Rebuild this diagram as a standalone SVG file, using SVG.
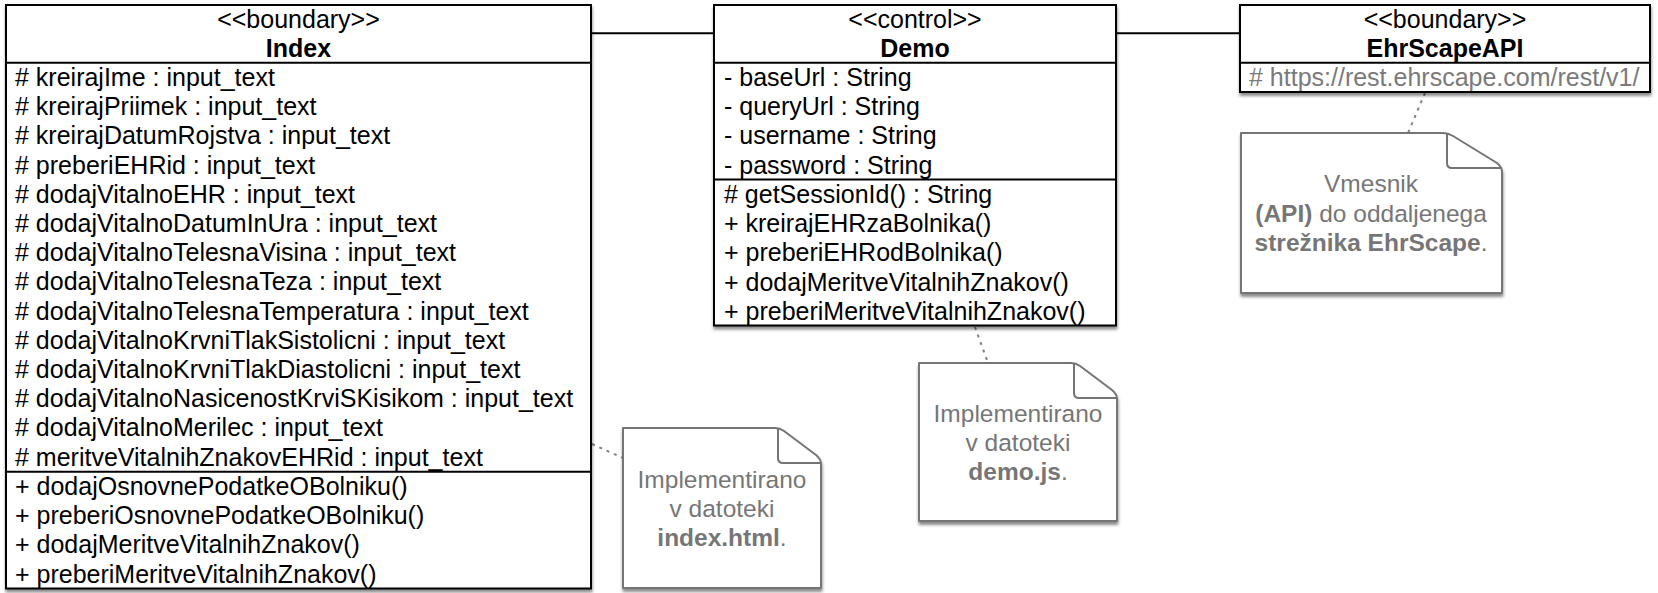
<svg xmlns="http://www.w3.org/2000/svg" width="1658" height="593" viewBox="0 0 1658 593">
<style>
text{font-family:"Liberation Sans",Arial,Helvetica,sans-serif;font-size:25px;fill:#000}
.b{font-weight:bold}
.box{fill:#fff;stroke:#000;stroke-width:2}
.div{stroke:#000;stroke-width:2}
.note{fill:#fff;stroke:#747474;stroke-width:2;stroke-linejoin:round}
.fold{fill:none;stroke:#747474;stroke-width:2;stroke-linejoin:round}
.nt{font-size:24.5px;fill:#767676;text-anchor:middle}
.mid{text-anchor:middle}
.assoc{stroke:#000;stroke-width:2;fill:none}
.anchor{stroke:#808080;stroke-width:2;fill:none;stroke-dasharray:3 5}
</style>
<defs>
<filter id="sh" x="-5%" y="-5%" width="110%" height="115%">
<feDropShadow dx="0.5" dy="3" stdDeviation="1.5" flood-color="#000" flood-opacity="0.45"/>
</filter>
</defs>

<g id="connectors">
<line class="assoc" x1="591" y1="33.3" x2="714" y2="33.3"/>
<line class="assoc" x1="1116" y1="33.3" x2="1240" y2="33.3"/>
<line class="anchor" x1="592" y1="444" x2="623" y2="458"/>
<line class="anchor" x1="975" y1="327" x2="988" y2="363"/>
<line class="anchor" x1="1425" y1="93" x2="1408" y2="133"/>
</g>

<g id="Index">
<rect class="box" x="6" y="5" width="585" height="583.5" filter="url(#sh)"/>
<line class="div" x1="6" y1="62.8" x2="591" y2="62.8"/>
<line class="div" x1="6" y1="471.8" x2="591" y2="471.8"/>
<text class="mid" x="298.5" y="28">&lt;&lt;boundary&gt;&gt;</text>
<text class="mid b" x="298.5" y="57.3">Index</text>
<text x="15" y="86">
<tspan x="15" dy="0"># kreirajIme : input_text</tspan>
<tspan x="15" dy="29.2"># kreirajPriimek : input_text</tspan>
<tspan x="15" dy="29.2"># kreirajDatumRojstva : input_text</tspan>
<tspan x="15" dy="29.2"># preberiEHRid : input_text</tspan>
<tspan x="15" dy="29.2"># dodajVitalnoEHR : input_text</tspan>
<tspan x="15" dy="29.2"># dodajVitalnoDatumInUra : input_text</tspan>
<tspan x="15" dy="29.2"># dodajVitalnoTelesnaVisina : input_text</tspan>
<tspan x="15" dy="29.2"># dodajVitalnoTelesnaTeza : input_text</tspan>
<tspan x="15" dy="29.2"># dodajVitalnoTelesnaTemperatura : input_text</tspan>
<tspan x="15" dy="29.2"># dodajVitalnoKrvniTlakSistolicni : input_text</tspan>
<tspan x="15" dy="29.2"># dodajVitalnoKrvniTlakDiastolicni : input_text</tspan>
<tspan x="15" dy="29.2"># dodajVitalnoNasicenostKrviSKisikom : input_text</tspan>
<tspan x="15" dy="29.2"># dodajVitalnoMerilec : input_text</tspan>
<tspan x="15" dy="29.2"># meritveVitalnihZnakovEHRid : input_text</tspan>
</text>
<text x="15" y="495">
<tspan x="15" dy="0">+ dodajOsnovnePodatkeOBolniku()</tspan>
<tspan x="15" dy="29.2">+ preberiOsnovnePodatkeOBolniku()</tspan>
<tspan x="15" dy="29.2">+ dodajMeritveVitalnihZnakov()</tspan>
<tspan x="15" dy="29.2">+ preberiMeritveVitalnihZnakov()</tspan>
</text>
</g>

<g id="Demo">
<rect class="box" x="714" y="5" width="402" height="320.5" filter="url(#sh)"/>
<line class="div" x1="714" y1="62.8" x2="1116" y2="62.8"/>
<line class="div" x1="714" y1="179.6" x2="1116" y2="179.6"/>
<text class="mid" x="915" y="28">&lt;&lt;control&gt;&gt;</text>
<text class="mid b" x="915" y="57.3">Demo</text>
<text x="724" y="86">
<tspan x="724" dy="0">- baseUrl : String</tspan>
<tspan x="724" dy="29.2">- queryUrl : String</tspan>
<tspan x="724" dy="29.2">- username : String</tspan>
<tspan x="724" dy="29.2">- password : String</tspan>
</text>
<text x="724" y="203">
<tspan x="724" dy="0"># getSessionId() : String</tspan>
<tspan x="724" dy="29.2">+ kreirajEHRzaBolnika()</tspan>
<tspan x="724" dy="29.2">+ preberiEHRodBolnika()</tspan>
<tspan x="724" dy="29.2">+ dodajMeritveVitalnihZnakov()</tspan>
<tspan x="724" dy="29.2">+ preberiMeritveVitalnihZnakov()</tspan>
</text>
</g>

<g id="EhrScapeAPI">
<rect class="box" x="1240" y="5" width="410" height="87" filter="url(#sh)"/>
<line class="div" x1="1240" y1="62.8" x2="1650" y2="62.8"/>
<text class="mid" x="1445" y="28">&lt;&lt;boundary&gt;&gt;</text>
<text class="mid b" x="1445" y="57.3">EhrScapeAPI</text>
<text x="1249" y="86" style="fill:#7a7a7a"># https://rest.ehrscape.com/rest/v1/</text>
</g>

<g id="note-index">
<path class="note" filter="url(#sh)" d="M623,428 H775 Q780,428 784,431 L816,455 Q821,459 821,464 V588 H623 Z"/>
<path class="fold" d="M778,429 V458 Q778,463 783,463 H820"/>
<text class="nt" x="722" y="488">Implementirano</text>
<text class="nt" x="722" y="517">v datoteki</text>
<text class="nt" x="722" y="546"><tspan class="b">index.html</tspan>.</text>
</g>

<g id="note-demo">
<path class="note" filter="url(#sh)" d="M919,363 H1071 Q1076,363 1080,366 L1112,390 Q1117,394 1117,399 V521 H919 Z"/>
<path class="fold" d="M1074,364 V393 Q1074,398 1079,398 H1116"/>
<text class="nt" x="1018" y="422">Implementirano</text>
<text class="nt" x="1018" y="451">v datoteki</text>
<text class="nt" x="1018" y="480"><tspan class="b">demo.js</tspan>.</text>
</g>

<g id="note-ehrscape">
<path class="note" filter="url(#sh)" d="M1241,133 H1443 Q1448,133 1453,136 L1497,163 Q1502,167 1502,172 V293 H1241 Z"/>
<path class="fold" d="M1447,134 V163 Q1447,168 1452,168 H1501"/>
<text class="nt" x="1371" y="192">Vmesnik</text>
<text class="nt" x="1371" y="221.5"><tspan class="b">(API)</tspan> do oddaljenega</text>
<text class="nt" x="1371" y="251"><tspan class="b">strežnika EhrScape</tspan>.</text>
</g>
</svg>
